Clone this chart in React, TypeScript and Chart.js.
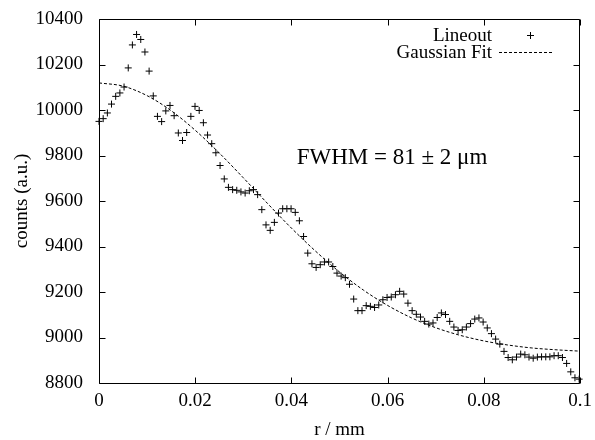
import React, { useEffect, useRef } from "react";
import { Chart, registerables } from "chart.js";

Chart.register(...registerables);

// ---- data ----
const R_MM = [
  0, 0.00087, 0.00174, 0.0026, 0.00347, 0.00434, 0.00521, 0.00608, 0.00694, 0.00781,
  0.00868, 0.00955, 0.01042, 0.01128, 0.01215, 0.01302, 0.01389, 0.01476, 0.01562, 0.01649,
  0.01736, 0.01823, 0.0191, 0.01996, 0.02083, 0.0217, 0.02257, 0.02344, 0.0243, 0.02517,
  0.02604, 0.02691, 0.02778, 0.02864, 0.02951, 0.03038, 0.03125, 0.03212, 0.03298, 0.03385,
  0.03472, 0.03559, 0.03646, 0.03732, 0.03819, 0.03906, 0.03993, 0.0408, 0.04166, 0.04253,
  0.0434, 0.04427, 0.04514, 0.046, 0.04687, 0.04774, 0.04861, 0.04948, 0.05034, 0.05121,
  0.05208, 0.05295, 0.05382, 0.05468, 0.05555, 0.05642, 0.05729, 0.05816, 0.05902, 0.05989,
  0.06076, 0.06163, 0.0625, 0.06336, 0.06423, 0.0651, 0.06597, 0.06684, 0.0677, 0.06857,
  0.06944, 0.07031, 0.07118, 0.07204, 0.07291, 0.07378, 0.07465, 0.07552, 0.07638, 0.07725,
  0.07812, 0.07899, 0.07986, 0.08072, 0.08159, 0.08246, 0.08333, 0.0842, 0.08506, 0.08593,
  0.0868, 0.08767, 0.08854, 0.0894, 0.09027, 0.09114, 0.09201, 0.09288, 0.09374, 0.09461,
  0.09548, 0.09635, 0.09722, 0.09808, 0.09895, 0.09982,
];
const COUNTS = [
  9950, 9962, 9987, 10026, 10060, 10075, 10101, 10185, 10286, 10332,
  10310, 10255, 10171, 10062, 9972, 9949, 9996, 10020, 9975, 9899,
  9866, 9901, 9972, 10016, 9998, 9944, 9890, 9852, 9812, 9756,
  9697, 9660, 9650, 9647, 9640, 9635, 9645, 9650, 9628, 9562,
  9495, 9471, 9506, 9547, 9566, 9566, 9566, 9550, 9513, 9444,
  9371, 9324, 9308, 9320, 9332, 9332, 9312, 9283, 9270, 9263,
  9234, 9169, 9118, 9118, 9140, 9137, 9132, 9143, 9166, 9176,
  9178, 9188, 9203, 9191, 9151, 9118, 9102, 9090, 9071, 9059,
  9064, 9088, 9108, 9101, 9071, 9046, 9031, 9034, 9046, 9061,
  9081, 9086, 9068, 9042, 9017, 8993, 8971, 8939, 8912, 8902,
  8914, 8927, 8924, 8914, 8909, 8914, 8915, 8915, 8915, 8920,
  8920, 8912, 8886, 8849, 8823, 8817,
];
const FIT_R = [
  0, 0.005, 0.01, 0.015, 0.02, 0.025, 0.03, 0.035, 0.04, 0.045, 0.05,
  0.055, 0.06, 0.065, 0.07, 0.075, 0.08, 0.085, 0.09, 0.095, 0.1,
];
const FIT_COUNTS = [
  10119, 10105, 10063, 9997, 9911, 9811, 9702, 9590, 9481, 9380, 9288,
  9208, 9141, 9086, 9043, 9010, 8985, 8967, 8954, 8946, 8940,
];
const X_TICKS = [0, 0.02, 0.04, 0.06, 0.08, 0.1];
const Y_TICKS = [8800, 9000, 9200, 9400, 9600, 9800, 10000, 10200, 10400];
const X_TITLE = "r / mm";
const Y_TITLE = "counts (a.u.)";
const LEGEND_LABELS = ["Lineout", "Gaussian Fit"];
const ANNOTATION = "FWHM = 81 \u00B1 2 \u03BCm";

const FONT = '"Liberation Serif", "DejaVu Serif", serif';

const framePlugin = {
  id: "gnuplotFrame",
  afterDatasetsDraw(chart: any) {
    const { ctx, chartArea: a, scales } = chart;
    const x = scales.x;
    const y = scales.y;
    const L = Math.round(a.left) + 0.5;
    const R = Math.round(a.right) - 0.5;
    const T = Math.round(a.top) + 0.5;
    const B = Math.round(a.bottom) + 0.5;
    ctx.save();
    ctx.strokeStyle = "#000";
    ctx.lineWidth = 1;
    ctx.setLineDash([]);
    ctx.beginPath();
    ctx.rect(L, T, R - L, B - T);
    ctx.stroke();
    const tl = 6;
    ctx.beginPath();
    X_TICKS.forEach((v) => {
      const px = Math.round(x.getPixelForValue(v)) + 0.5;
      ctx.moveTo(px, B);
      ctx.lineTo(px, B - tl);
      ctx.moveTo(px, T);
      ctx.lineTo(px, T + tl);
    });
    Y_TICKS.forEach((v) => {
      const py = Math.round(y.getPixelForValue(v)) + 0.5;
      ctx.moveTo(L, py);
      ctx.lineTo(L + tl, py);
      ctx.moveTo(R, py);
      ctx.lineTo(R - tl, py);
    });
    ctx.stroke();

    // legend
    ctx.fillStyle = "#000";
    ctx.font = `19px ${FONT}`;
    ctx.textAlign = "right";
    ctx.textBaseline = "alphabetic";
    ctx.fillText(LEGEND_LABELS[0], 492, 40.5);
    ctx.fillText(LEGEND_LABELS[1], 492, 57.5);
    // "+" sample
    ctx.beginPath();
    ctx.moveTo(527, 35.5);
    ctx.lineTo(534, 35.5);
    ctx.moveTo(530.5, 32);
    ctx.lineTo(530.5, 39);
    ctx.stroke();
    // dashed sample
    ctx.setLineDash([3, 2]);
    ctx.beginPath();
    ctx.moveTo(499, 52.5);
    ctx.lineTo(553, 52.5);
    ctx.stroke();
    ctx.setLineDash([]);

    // annotation
    ctx.font = `23px ${FONT}`;
    ctx.textAlign = "center";
    ctx.fillText(ANNOTATION, 392, 163.5);
    ctx.restore();
  },
};

export default function App() {
  const ref = useRef<HTMLCanvasElement | null>(null);
  useEffect(() => {
    if (!ref.current) return;
    const lineout = R_MM.map((r, i) => ({ x: r, y: COUNTS[i] }));
    const fit = FIT_R.map((r, i) => ({ x: r, y: FIT_COUNTS[i] }));
    const chart = new Chart(ref.current, {
      type: "scatter",
      data: {
        datasets: [
          {
            label: LEGEND_LABELS[0],
            data: lineout,
            pointStyle: "cross",
            pointRadius: 3.5,
            pointBorderWidth: 1,
            borderColor: "#000",
            backgroundColor: "#000",
            showLine: false,
            clip: false as any,
          },
          {
            label: LEGEND_LABELS[1],
            data: fit,
            showLine: true,
            pointRadius: 0,
            borderColor: "#000",
            borderWidth: 1,
            borderDash: [3, 2],
            cubicInterpolationMode: "monotone",
            fill: false,
          },
        ],
      },
      plugins: [framePlugin],
      options: {
        responsive: false,
        animation: false,
        devicePixelRatio: 1,
        layout: { padding: { top: 19, right: 15, left: 0, bottom: 0 } },
        plugins: { legend: { display: false }, tooltip: { enabled: false } },
        scales: {
          x: {
            type: "linear",
            min: 0,
            max: 0.1,
            afterBuildTicks: (s: any) => {
              s.ticks = X_TICKS.map((v) => ({ value: v }));
            },
            afterFit: (s: any) => {
              s.height = 57;
              s.paddingLeft = 0;
              s.paddingRight = 0;
            },
            grid: { display: false, drawTicks: false },
            border: { display: false },
            ticks: {
              color: "#000",
              font: { family: FONT, size: 19 },
              padding: 7,
              maxRotation: 0,
              autoSkip: false,
              callback: (v: any) => String(Number(Number(v).toFixed(3))),
            },
            title: {
              display: true,
              text: X_TITLE,
              color: "#000",
              font: { family: FONT, size: 19, lineHeight: 1 },
              padding: { top: 0, bottom: 0 },
            },
          },
          y: {
            type: "linear",
            min: 8800,
            max: 10400,
            afterBuildTicks: (s: any) => {
              s.ticks = Y_TICKS.map((v) => ({ value: v }));
            },
            afterFit: (s: any) => {
              s.width = 99;
              s.paddingTop = 0;
              s.paddingBottom = 0;
            },
            grid: { display: false, drawTicks: false },
            border: { display: false },
            ticks: {
              color: "#000",
              font: { family: FONT, size: 19 },
              padding: 16,
              autoSkip: false,
              callback: (v: any) => String(v),
            },
            title: {
              display: true,
              text: Y_TITLE,
              color: "#000",
              font: { family: FONT, size: 19, lineHeight: 1 },
              padding: { top: 13, bottom: 0 },
            },
          },
        },
      },
    });
    return () => chart.destroy();
  }, []);
  return (
    <div style={{ position: "absolute", left: 0, top: 0, width: 595, height: 440, background: "#fff" }}>
      <canvas ref={ref} width={595} height={440} style={{ display: "block" }} />
    </div>
  );
}
